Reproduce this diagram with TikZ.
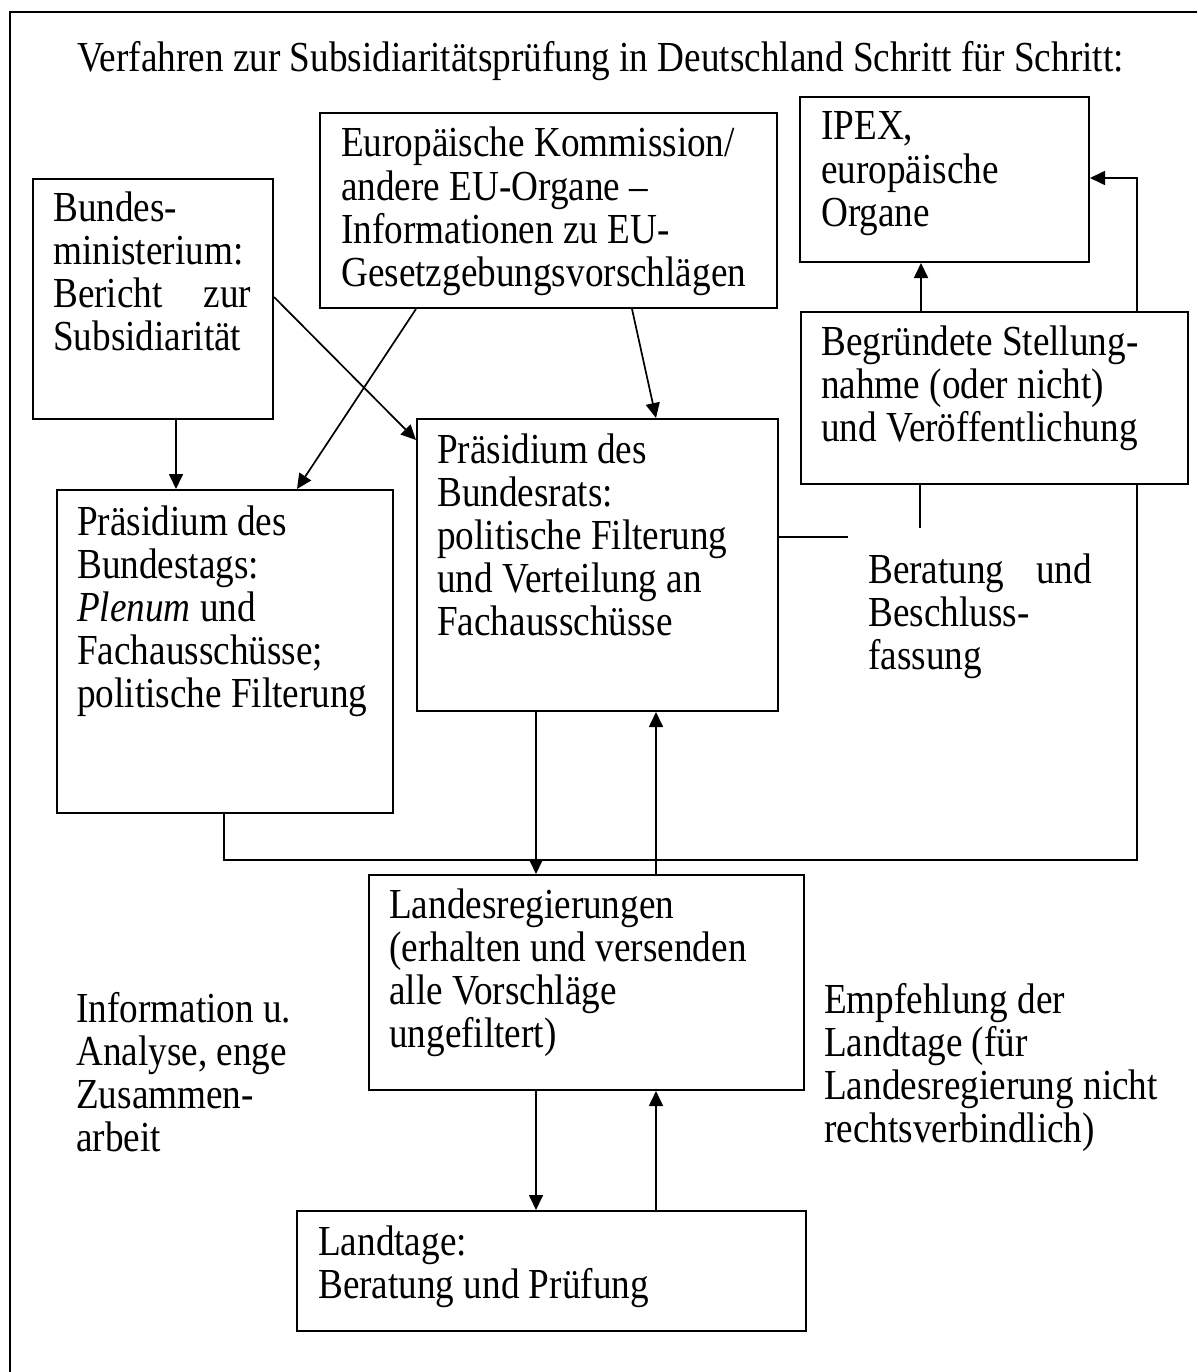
\documentclass[tikz,border=0pt]{standalone}
\usepackage{graphicx}
\usepackage{fontspec}
\setmainfont{Liberation Serif}
\usetikzlibrary{arrows.meta}
\newcommand{\tbox}[2]{\scalebox{1}[1.15]{\parbox[t]{#1}{\raggedright #2}}}
\begin{document}
\begin{tikzpicture}[x=1pt,y=-1pt,
  every node/.style={font=\fontsize{37.2}{37.4}\selectfont},
  box/.style={draw, line width=2pt, rectangle, inner sep=0pt, anchor=north west},
  txt/.style={inner sep=0pt, anchor=base west},
  con/.style={line width=1.7pt},
  arr/.style={con, -{Triangle[length=15pt,width=14pt]}},
  frame/.style={line width=2.6pt}]

\useasboundingbox (0,0) rectangle (1197,1372);

% outer frame (partly visible)
\draw[frame] (10,1372) -- (10,12) -- (1197,12);

% boxes
\node[box, minimum width=240pt, minimum height=240pt] (bm)   at (32,178)  {};
\node[box, minimum width=457pt, minimum height=195pt] (eu)   at (319,112) {};
\node[box, minimum width=289pt, minimum height=165pt] (ipex) at (799,96)  {};
\node[box, minimum width=336pt, minimum height=323pt] (bt)   at (56,489)  {};
\node[box, minimum width=361pt, minimum height=292pt] (br)   at (416,418) {};
\node[box, minimum width=387pt, minimum height=172pt] (sg)   at (800,311) {};
\node[box, minimum width=435pt, minimum height=215pt] (lr)   at (368,874) {};
\node[box, minimum width=509pt, minimum height=120pt] (lt)   at (296,1210){};

% texts
\node[txt] (title) at (77,72) {\scalebox{1}[1.15]{Verfahren zur Subsidiaritätsprüfung in Deutschland Schritt für Schritt:}};
\node[txt] (bmT) at (53,221.7) {\tbox{198pt}{Bundes-\\ministerium:\\Bericht\hfill zur\\Subsidiarität}};
\node[txt] (euT) at (341,157) {\tbox{420pt}{Europäische Kommission/\\andere EU-Organe –\\Informationen zu EU-\\Gesetzgebungsvorschlägen}};
\node[txt] (ipexT) at (821,140) {\tbox{250pt}{IPEX,\\europäische\\Organe}};
\node[txt] (btT) at (77,535) {\tbox{300pt}{Präsidium des\\Bundestags:\\\textit{Plenum} und\\Fachausschüsse;\\politische Filterung}};
\node[txt] (brT) at (437,463) {\tbox{320pt}{Präsidium des\\Bundesrats:\\politische Filterung\\und Verteilung an\\Fachausschüsse}};
\node[txt] (sgT) at (821,355) {\tbox{350pt}{Begründete Stellung-\\nahme (oder nicht)\\und Veröffentlichung}};
\node[txt] (beratT) at (868,583) {\tbox{224pt}{Beratung\hfill und\\Beschluss-\\fassung}};
\node[txt] (lrT) at (389,918) {\tbox{400pt}{Landesregierungen\\(erhalten und versenden\\alle Vorschläge\\ungefiltert)}};
\node[txt] (infoT) at (76,1022) {\tbox{280pt}{Information u.\\Analyse, enge\\Zusammen-\\arbeit}};
\node[txt] (empfT) at (824,1013) {\tbox{345pt}{Empfehlung der\\Landtage (für\\Landesregierung nicht\\rechtsverbindlich)}};
\node[txt] (ltT) at (318,1255) {\tbox{400pt}{Landtage:\\Beratung und Prüfung}};

% connectors
\draw[arr] (bm.south -| 176,0) -- (bt.north -| 176,0);
\draw[arr] (bm.east |- 0,297) -- (br.west |- 0,440);
\draw[arr] (eu.south -| 416,0) -- (bt.north -| 297,0);
\draw[arr] (eu.south -| 632,0) -- (br.north -| 656,0);
\draw[arr] (br.south -| 536,0) -- (lr.north -| 536,0);
\draw[arr] (lr.north -| 656,0) -- (br.south -| 656,0);
\draw[arr] (lr.south -| 536,0) -- (lt.north -| 536,0);
\draw[arr] (lt.north -| 656,0) -- (lr.south -| 656,0);
\coordinate (brend) at (848,537);
\draw[con] (br.east |- brend) -- (brend);
\coordinate (sgend) at (920,528);
\draw[con] (sg.south -| sgend) -- (sgend);
\draw[arr] (sg.north -| 921,0) -- (ipex.south -| 921,0);
\draw[arr] (sg.north -| 1137,0) -- (1137,178) -- (ipex.east |- 0,178);
\draw[con] (bt.south -| 224,0) -- (224,860) -- (1137,860) -- (sg.south -| 1137,0);
\end{tikzpicture}
\end{document}
